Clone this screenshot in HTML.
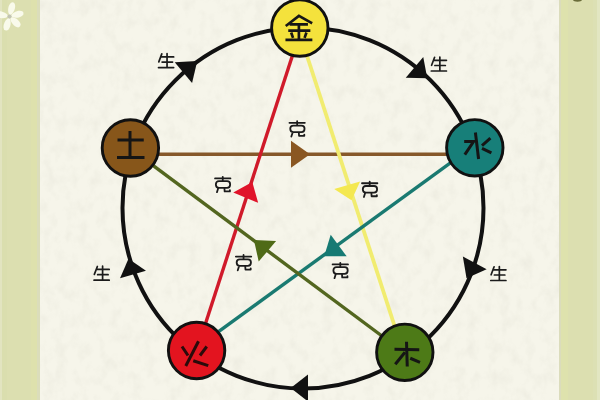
<!DOCTYPE html>
<html><head><meta charset="utf-8"><title>Five Elements</title>
<style>html,body{margin:0;padding:0;width:600px;height:400px;overflow:hidden;background:#f6f5ea;font-family:"Liberation Sans",sans-serif;}svg{display:block}</style>
</head><body><svg width="600" height="400" viewBox="0 0 600 400"><rect width="600" height="400" fill="#f6f5ea"/><defs><filter id="tx" x="0" y="0" width="100%" height="100%"><feTurbulence type="fractalNoise" baseFrequency="0.09 0.07" numOctaves="3" seed="7" result="n"/><feColorMatrix in="n" type="matrix" values="0 0 0 0 0.45  0 0 0 0 0.44  0 0 0 0 0.36  0 0 0 -2.2 1.25"/></filter></defs><rect x="40" y="0" width="519" height="400" filter="url(#tx)" opacity="0.10"/><rect x="0" y="0" width="40" height="400" fill="#dcdfb0"/><rect x="559" y="0" width="41" height="400" fill="#dcdfb0"/><rect x="0" y="0" width="2" height="400" fill="#e2e4c0"/><rect x="2" y="0" width="5" height="400" fill="#dadeae"/><rect x="31" y="0" width="6" height="400" fill="#dee1ad"/><rect x="37" y="0" width="3" height="400" fill="#dbddbb"/><rect x="559" y="0" width="2" height="400" fill="#dbdcbc"/><rect x="561" y="0" width="7" height="400" fill="#dee2ad"/><rect x="593" y="0" width="4" height="400" fill="#dce0b4"/><rect x="597" y="0" width="3" height="400" fill="#e2e6c2"/><defs><filter id="fb" x="-20%" y="-20%" width="140%" height="140%"><feGaussianBlur stdDeviation="0.6"/></filter></defs><g filter="url(#fb)"><path fill="#f9faeb" transform="translate(9.5 16.5) rotate(-76)" d="M1.5 0C3 -3.2 10.5 -4.6 13.8 -1.8Q15.2 0 13.8 1.8C10.5 4.6 3 3.2 1.5 0Z"/><path fill="#f9faeb" transform="translate(9.5 16.5) rotate(-15)" d="M1.5 0C3 -3.2 10.5 -4.6 13.8 -1.8Q15.2 0 13.8 1.8C10.5 4.6 3 3.2 1.5 0Z"/><path fill="#f9faeb" transform="translate(9.5 16.5) rotate(44)" d="M1.5 0C3 -3.2 10.5 -4.6 13.8 -1.8Q15.2 0 13.8 1.8C10.5 4.6 3 3.2 1.5 0Z"/><path fill="#f9faeb" transform="translate(9.5 16.5) rotate(106)" d="M1.5 0C3 -3.2 10.5 -4.6 13.8 -1.8Q15.2 0 13.8 1.8C10.5 4.6 3 3.2 1.5 0Z"/><path fill="#f9faeb" transform="translate(9.5 16.5) rotate(192)" d="M1.5 0C3 -3.2 10.5 -4.6 13.8 -1.8Q15.2 0 13.8 1.8C10.5 4.6 3 3.2 1.5 0Z"/><circle cx="9.5" cy="16.5" r="2.1" fill="#c2c4b2"/></g><ellipse cx="577.5" cy="-0.5" rx="4.5" ry="2.2" fill="#6a6d3a"/><circle cx="303" cy="208" r="180.5" fill="none" stroke="#111" stroke-width="4"/><polygon fill="#111" points="197.25,61.00 192.07,82.95 174.73,62.25"/><polygon fill="#111" points="427.25,78.25 405.75,77.68 423.25,57.12"/><polygon fill="#111" points="466.50,278.25 462.86,256.51 486.64,269.29"/><polygon fill="#111" points="128.50,258.75 145.98,270.79 120.02,278.21"/><polygon fill="#111" points="290.70,388.00 308.00,374.50 308.00,401.50"/><line x1="130" y1="154.3" x2="475" y2="154.3" stroke="#86582a" stroke-width="3.4"/><line x1="196.6" y1="351" x2="301.4" y2="28" stroke="#d01a2a" stroke-width="3.4"/><line x1="298" y1="28" x2="403" y2="352" stroke="#f1ec70" stroke-width="3.8"/><line x1="474.8" y1="145.1" x2="196.6" y2="347.7" stroke="#1a7a71" stroke-width="3.4"/><line x1="404.8" y1="353" x2="130.4" y2="148.7" stroke="#53661f" stroke-width="3.4"/><polygon fill="#8a5722" points="310.00,154.30 291.00,167.80 291.00,140.80"/><polygon fill="#e0142a" points="252.30,181.90 258.15,202.87 233.25,192.43"/><polygon fill="#f4e850" points="351.50,200.25 334.18,188.95 360.12,181.45"/><polygon fill="#167a73" points="324.25,256.15 330.69,234.63 346.71,256.37"/><polygon fill="#4f6a17" points="253.90,239.90 276.09,240.92 258.71,261.58"/><circle cx="299.8" cy="28" r="28.2" fill="#f4e23c" stroke="#111" stroke-width="2.9"/><circle cx="474.8" cy="147.8" r="28.2" fill="#177f79" stroke="#111" stroke-width="2.9"/><circle cx="130.4" cy="148" r="28.2" fill="#87561a" stroke="#111" stroke-width="2.9"/><circle cx="196.6" cy="350.5" r="28.2" fill="#e3141f" stroke="#111" stroke-width="2.9"/><circle cx="404.8" cy="352.3" r="28.2" fill="#4d7a17" stroke="#111" stroke-width="2.9"/><polyline fill="none" stroke="#151515" stroke-width="3" stroke-linecap="butt" stroke-linejoin="miter" points="117.5,140 143.75,140"/><polyline fill="none" stroke="#151515" stroke-width="3" stroke-linecap="butt" stroke-linejoin="miter" points="117,157.5 144.5,157.5"/><polyline fill="none" stroke="#151515" stroke-width="3" stroke-linecap="butt" stroke-linejoin="miter" points="130,131 130,157.5"/><polyline fill="none" stroke="#151515" stroke-width="3" stroke-linecap="butt" stroke-linejoin="miter" points="475.4,132.5 478.6,159"/><polyline fill="none" stroke="#151515" stroke-width="3" stroke-linecap="butt" stroke-linejoin="miter" points="464.2,141.5 473.6,141.5 464.8,154.6"/><polyline fill="none" stroke="#151515" stroke-width="3" stroke-linecap="butt" stroke-linejoin="miter" points="490.4,138.1 482,145.6"/><polyline fill="none" stroke="#151515" stroke-width="3" stroke-linecap="butt" stroke-linejoin="miter" points="482,148.4 491.4,152.8"/><polyline fill="none" stroke="#151515" stroke-width="3" stroke-linecap="butt" stroke-linejoin="miter" points="394.5,349.25 419.25,349.7"/><polyline fill="none" stroke="#151515" stroke-width="3" stroke-linecap="butt" stroke-linejoin="miter" points="406.5,341.75 407.25,366.5"/><polyline fill="none" stroke="#151515" stroke-width="3" stroke-linecap="butt" stroke-linejoin="miter" points="405,352.25 395.25,364.25"/><polyline fill="none" stroke="#151515" stroke-width="3" stroke-linecap="butt" stroke-linejoin="miter" points="410.25,358.25 420,362.3"/><polyline fill="none" stroke="#2a0b0b" stroke-width="3" stroke-linecap="butt" stroke-linejoin="miter" points="182,346.5 188,355.5"/><polyline fill="none" stroke="#2a0b0b" stroke-width="3" stroke-linecap="butt" stroke-linejoin="miter" points="198.5,341.25 185.75,366"/><polyline fill="none" stroke="#2a0b0b" stroke-width="3" stroke-linecap="butt" stroke-linejoin="miter" points="206.75,346.5 200,355.5"/><polyline fill="none" stroke="#2a0b0b" stroke-width="3" stroke-linecap="butt" stroke-linejoin="miter" points="193.25,360.75 208.25,365.7"/><path fill="none" stroke="#161616" stroke-width="2.7" stroke-linecap="square" stroke-linejoin="miter" d="M286.8 25.2L298.9 15.9L311 22.6M291 24.4H306.6M289.6 30.6H309M298.9 24.4V39.7M291.6 33.8L292.6 36.6M306 33.8L305 36.6M286.8 39.8H311"/><g transform="translate(166.10 60.60)"><g fill="none" stroke="#1b1b1b" stroke-width="1.7" stroke-linecap="round" stroke-linejoin="round" transform="translate(-11.7 -11.4)"><path d="M7.4 4.7L4.4 12.65M6.6 7.7H19.25M7.7 12.9H18.15M4.1 18.4H19.25M12.65 4.4V18.4"/></g></g><g transform="translate(438.90 64.00)"><g fill="none" stroke="#1b1b1b" stroke-width="1.7" stroke-linecap="round" stroke-linejoin="round" transform="translate(-11.7 -11.4)"><path d="M7.4 4.7L4.4 12.65M6.6 7.7H19.25M7.7 12.9H18.15M4.1 18.4H19.25M12.65 4.4V18.4"/></g></g><g transform="translate(498.40 273.50)"><g fill="none" stroke="#1b1b1b" stroke-width="1.7" stroke-linecap="round" stroke-linejoin="round" transform="translate(-11.7 -11.4)"><path d="M7.4 4.7L4.4 12.65M6.6 7.7H19.25M7.7 12.9H18.15M4.1 18.4H19.25M12.65 4.4V18.4"/></g></g><g transform="translate(101.65 273.15)"><g fill="none" stroke="#1b1b1b" stroke-width="1.7" stroke-linecap="round" stroke-linejoin="round" transform="translate(-11.7 -11.4)"><path d="M7.4 4.7L4.4 12.65M6.6 7.7H19.25M7.7 12.9H18.15M4.1 18.4H19.25M12.65 4.4V18.4"/></g></g><g transform="translate(297.15 128.85)"><g fill="none" stroke="#1b1b1b" stroke-width="1.8" stroke-linecap="round" stroke-linejoin="round" transform="translate(-11 -11.55)"><path d="M3.3 5.5H18.7M11 3.85V7.15M7.2 8.25H15.3Q18.4 8.25 18.4 11.55Q18.4 14.85 15.3 14.85H7.2Q4.1 14.85 4.1 11.55Q4.1 8.25 7.2 8.25ZM6.6 14.85L5.2 19.25M12.65 14.85L12.9 18.5H18.15V17.3"/></g></g><g transform="translate(222.75 184.50)"><g fill="none" stroke="#1b1b1b" stroke-width="1.8" stroke-linecap="round" stroke-linejoin="round" transform="translate(-11 -11.55)"><path d="M3.3 5.5H18.7M11 3.85V7.15M7.2 8.25H15.3Q18.4 8.25 18.4 11.55Q18.4 14.85 15.3 14.85H7.2Q4.1 14.85 4.1 11.55Q4.1 8.25 7.2 8.25ZM6.6 14.85L5.2 19.25M12.65 14.85L12.9 18.5H18.15V17.3"/></g></g><g transform="translate(369.70 189.30)"><g fill="none" stroke="#1b1b1b" stroke-width="1.8" stroke-linecap="round" stroke-linejoin="round" transform="translate(-11 -11.55)"><path d="M3.3 5.5H18.7M11 3.85V7.15M7.2 8.25H15.3Q18.4 8.25 18.4 11.55Q18.4 14.85 15.3 14.85H7.2Q4.1 14.85 4.1 11.55Q4.1 8.25 7.2 8.25ZM6.6 14.85L5.2 19.25M12.65 14.85L12.9 18.5H18.15V17.3"/></g></g><g transform="translate(243.55 262.60)"><g fill="none" stroke="#1b1b1b" stroke-width="1.8" stroke-linecap="round" stroke-linejoin="round" transform="translate(-11 -11.55)"><path d="M3.3 5.5H18.7M11 3.85V7.15M7.2 8.25H15.3Q18.4 8.25 18.4 11.55Q18.4 14.85 15.3 14.85H7.2Q4.1 14.85 4.1 11.55Q4.1 8.25 7.2 8.25ZM6.6 14.85L5.2 19.25M12.65 14.85L12.9 18.5H18.15V17.3"/></g></g><g transform="translate(340.30 270.50)"><g fill="none" stroke="#1b1b1b" stroke-width="1.8" stroke-linecap="round" stroke-linejoin="round" transform="translate(-11 -11.55)"><path d="M3.3 5.5H18.7M11 3.85V7.15M7.2 8.25H15.3Q18.4 8.25 18.4 11.55Q18.4 14.85 15.3 14.85H7.2Q4.1 14.85 4.1 11.55Q4.1 8.25 7.2 8.25ZM6.6 14.85L5.2 19.25M12.65 14.85L12.9 18.5H18.15V17.3"/></g></g></svg></body></html>
